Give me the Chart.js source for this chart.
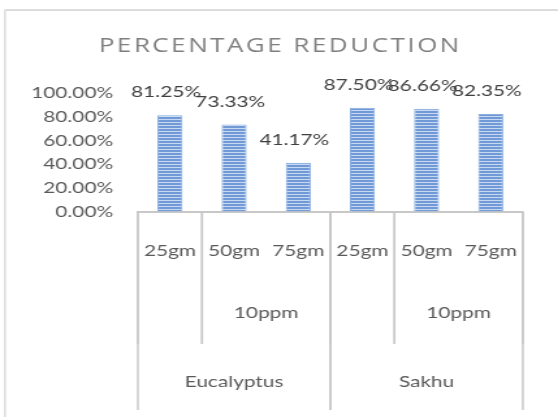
<!DOCTYPE html>
<html>
<head>
<meta charset="utf-8">
<script src="https://cdn.jsdelivr.net/npm/chart.js@4.4.1/dist/chart.umd.min.js"></script>
<style>
  body { margin: 0; background: #fff; overflow: hidden; }
  /* the source picture is stretched sideways, so draw narrow and widen */
  #wrap { width: 429px; height: 417px; transform: scaleX(1.3007); transform-origin: 0 0; }
</style>
</head>
<body>
<div id="wrap"><canvas id="barchart" width="429" height="417"></canvas></div>
<script>
// values
const sizes = ['25gm', '50gm', '75gm', '25gm', '50gm', '75gm'];
const doses = ['', '10ppm', '10ppm', '', '10ppm', '10ppm'];
const species = ['Eucalyptus', 'Eucalyptus', 'Eucalyptus', 'Sakhu', 'Sakhu', 'Sakhu'];
const reduction = [81.25, 73.33, 41.17, 87.50, 86.66, 82.35];
const yTicks = [0, 20, 40, 60, 80, 100];

const font = 'Lato';
const gray = '#595959';
const lineGray = '#c8c8c8';

function stripes() {
    const c = document.createElement('canvas');
    c.width = 4; c.height = 3;
    const g = c.getContext('2d');
    g.fillStyle = '#7199d6';
    g.fillRect(0, 0, 4, 3);
    g.fillStyle = '#c6d8f2';
    g.fillRect(0, 2, 4, 1);
    return g.createPattern(c, 'repeat');
}

// runs of equal keys -> [start, end] index pairs
function runs(keys) {
    const out = [];
    let start = 0;
    for (let i = 1; i <= keys.length; i++) {
        if (i === keys.length || keys[i] !== keys[start]) {
            out.push([start, i - 1]);
            start = i;
        }
    }
    return out;
}

const frame = {
    id: 'frame',
    beforeDraw(chart) {
        const ctx = chart.ctx;
        ctx.save();
        ctx.strokeStyle = '#dcdcdc';
        ctx.lineWidth = 2;
        ctx.beginPath();
        ctx.moveTo(429, 10);
        ctx.lineTo(3.8, 10);
        ctx.stroke();
        ctx.lineWidth = 1.5;
        ctx.beginPath();
        ctx.moveTo(3.8, 417);
        ctx.lineTo(3.8, 10);
        ctx.stroke();

        ctx.fillStyle = '#7f7f7f';
        ctx.font = '20px "Open Sans"';
        ctx.letterSpacing = '1.9px';
        ctx.textAlign = 'center';
        ctx.textBaseline = 'middle';
        ctx.fillText('PERCENTAGE REDUCTION', 215.5, 46);
        ctx.restore();
    }
};

const valueLabels = {
    id: 'valueLabels',
    afterDatasetsDraw(chart) {
        const ctx = chart.ctx;
        const meta = chart.getDatasetMeta(0);
        ctx.save();
        ctx.fillStyle = '#404040';
        ctx.font = '16px ' + font;
        ctx.textAlign = 'center';
        ctx.textBaseline = 'middle';
        meta.data.forEach((bar, i) => {
            ctx.fillText(reduction[i].toFixed(2) + '%', bar.x - 3, bar.y - 23);
        });
        ctx.restore();
    }
};

const groupAxis = {
    id: 'groupAxis',
    afterDraw(chart) {
        const ctx = chart.ctx;
        const xs = chart.scales.x;
        const top = chart.chartArea.bottom;
        const bottom = xs.bottom;
        const row = (bottom - top) / 3;
        const half = (xs.getPixelForValue(1) - xs.getPixelForValue(0)) / 2;
        const edge = (i) => xs.getPixelForValue(i) - half;

        const outer = runs(species);
        const inner = runs(species.map((s, i) => s + '|' + doses[i]));

        ctx.save();
        ctx.strokeStyle = lineGray;
        ctx.lineWidth = 1.5;
        inner.forEach(([a, b]) => {
            [edge(a), edge(b + 1)].forEach((x) => {
                ctx.beginPath();
                ctx.moveTo(x, top);
                ctx.lineTo(x, top + 2 * row);
                ctx.stroke();
            });
        });
        outer.forEach(([a, b]) => {
            [edge(a), edge(b + 1)].forEach((x) => {
                ctx.beginPath();
                ctx.moveTo(x, top);
                ctx.lineTo(x, bottom);
                ctx.stroke();
            });
        });

        ctx.fillStyle = gray;
        ctx.font = '16px ' + font;
        ctx.textAlign = 'center';
        ctx.textBaseline = 'middle';
        inner.forEach(([a, b]) => {
            const x = (edge(a) + edge(b + 1)) / 2;
            ctx.fillText(doses[a], x, top + 1.5 * row + 2);
        });
        outer.forEach(([a, b]) => {
            const x = (edge(a) + edge(b + 1)) / 2;
            ctx.fillText(species[a], x, top + 2.5 * row + 5);
        });
        ctx.restore();
    }
};

const ctx = document.getElementById('barchart').getContext('2d');
const myChart = new Chart(ctx, {
    type: 'bar',
    data: {
        labels: sizes,
        datasets: [{
            label: 'Percentage Reduction',
            data: reduction,
            backgroundColor: stripes(),
            borderColor: '#86abe0',
            borderWidth: 1,
            categoryPercentage: 1,
            barPercentage: 0.39
        }]
    },
    options: {
        responsive: false,
        animation: false,
        layout: { padding: { top: 93, right: 20.5, bottom: 7, left: 0 } },
        plugins: {
            legend: { display: false },
            tooltip: { enabled: false }
        },
        scales: {
            x: {
                grid: { display: false, drawTicks: false },
                border: { display: true, color: lineGray, width: 2 },
                ticks: { color: gray, font: { family: font, size: 16 }, padding: 30, maxRotation: 0, autoSkip: false },
                afterFit(scale) { scale.height = 198.5; }
            },
            y: {
                min: 0,
                max: 100,
                afterBuildTicks(scale) { scale.ticks = yTicks.map((v) => ({ value: v })); },
                grid: { display: false, drawTicks: false },
                border: { display: false },
                ticks: {
                    color: gray,
                    font: { family: font, size: 16 },
                    padding: 19,
                    autoSkip: false,
                    callback: (v) => v.toFixed(2) + '%'
                },
                afterFit(scale) { scale.width = 106; }
            }
        }
    },
    plugins: [frame, valueLabels, groupAxis]
});
</script>
</body>
</html>
